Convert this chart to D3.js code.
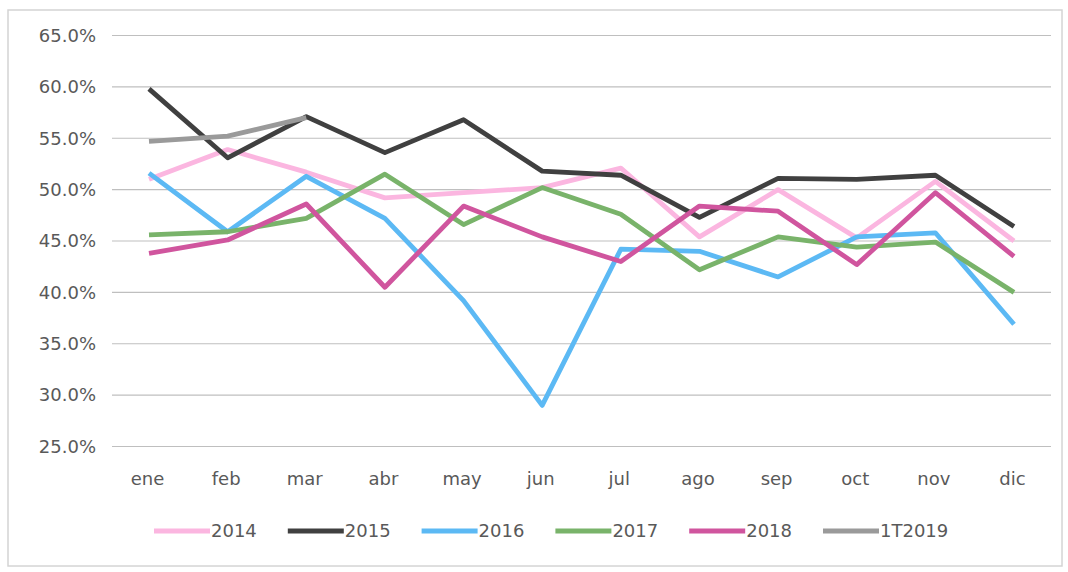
<!DOCTYPE html>
<html>
<head>
<meta charset="utf-8">
<script src="https://cdn.jsdelivr.net/npm/d3@7"></script>
<style>
  body { margin: 0; background: #fff; }
  svg { display: block; }
</style>
</head>
<body>
<div id="chart"></div>
<script>
const months = ['ene', 'feb', 'mar', 'abr', 'may', 'jun', 'jul', 'ago', 'sep', 'oct', 'nov', 'dic']
const yTicks = [25, 30, 35, 40, 45, 50, 55, 60, 65]

const s2014 = [51.0, 53.9, 51.7, 49.2, 49.7, 50.2, 52.1, 45.4, 50.0, 45.3, 50.8, 45.0]
const s2015 = [59.8, 53.1, 57.1, 53.6, 56.8, 51.8, 51.4, 47.3, 51.1, 51.0, 51.4, 46.4]
const s2016 = [51.6, 45.9, 51.3, 47.2, 39.2, 29.0, 44.2, 44.0, 41.5, 45.4, 45.8, 36.9]
const s2017 = [45.6, 45.9, 47.2, 51.5, 46.6, 50.2, 47.6, 42.2, 45.4, 44.4, 44.9, 40.0]
const s2018 = [43.8, 45.1, 48.6, 40.5, 48.4, 45.4, 43.0, 48.4, 47.9, 42.7, 49.7, 43.5]
const s1T2019 = [54.7, 55.2, 57.0, null, null, null, null, null, null, null, null, null]

const seriesNames = ['2014', '2015', '2016', '2017', '2018', '1T2019']
const seriesColors = ['#fbb6e0', '#404040', '#5cb9f4', '#79b36a', '#d0559e', '#9a9a9a']
const seriesData = [s2014, s2015, s2016, s2017, s2018, s1T2019]

const W = 1068
const H = 572

const svg = d3
  .select('#chart')
  .append('svg')
  .attr('width', W)
  .attr('height', H)

// scanned frame
svg
  .append('rect')
  .attr('x', 8)
  .attr('y', 10)
  .attr('width', 1054)
  .attr('height', 556)
  .attr('fill', 'none')
  .attr('stroke', '#d4d4d4')
  .attr('stroke-width', 1.5)

const xScale = d3
  .scalePoint()
  .domain(months)
  .range([149, 1014])

const yScale = d3
  .scaleLinear()
  .domain([25, 65])
  .range([446.5, 35.5])

// gridlines
svg
  .append('g')
  .selectAll('line')
  .data(yTicks)
  .enter()
  .append('line')
  .attr('x1', 112)
  .attr('x2', 1051)
  .attr('y1', d => yScale(d))
  .attr('y2', d => yScale(d))
  .attr('stroke', '#bfbfbf')
  .attr('stroke-width', 1.2)

// y axis labels
const yAxis = d3
  .axisLeft(yScale)
  .tickValues(yTicks)
  .tickSize(0)
  .tickPadding(0)
  .tickFormat(d => d.toFixed(1) + '%')

svg
  .append('g')
  .attr('transform', 'translate(96,0)')
  .call(yAxis)
  .call(g => g.select('.domain').remove())
  .selectAll('text')
  .attr('font-family', 'DejaVu Sans, sans-serif')
  .attr('font-size', 18)
  .attr('fill', '#595959')

// x axis labels
const xAxis = d3.axisBottom(xScale).tickSize(0).tickPadding(0)

svg
  .append('g')
  .attr('transform', 'translate(-2,472)')
  .call(xAxis)
  .call(g => g.select('.domain').remove())
  .selectAll('text')
  .attr('font-family', 'DejaVu Sans, sans-serif')
  .attr('font-size', 18)
  .attr('fill', '#595959')

const line = d3
  .line()
  .defined(d => d != null)
  .x((d, i) => xScale(months[i]))
  .y(d => yScale(d))

svg
  .append('g')
  .selectAll('path')
  .data(seriesData)
  .enter()
  .append('path')
  .attr('d', line)
  .attr('fill', 'none')
  .attr('stroke', (d, i) => seriesColors[i])
  .attr('stroke-width', 4.8)
  .attr('stroke-linejoin', 'round')

// legend
const legendX = d3
  .scalePoint()
  .domain(seriesNames)
  .range([154, 823])

const legend = svg
  .append('g')
  .selectAll('.legend-item')
  .data(seriesNames)
  .enter()
  .append('g')
  .attr('transform', d => `translate(${legendX(d)},531)`)

legend
  .append('line')
  .attr('x1', 0)
  .attr('x2', 56)
  .attr('stroke', (d, i) => seriesColors[i])
  .attr('stroke-width', 5)

legend
  .append('text')
  .text(d => d)
  .attr('x', 57)
  .attr('y', 0)
  .attr('dy', '0.35em')
  .attr('font-family', 'DejaVu Sans, sans-serif')
  .attr('font-size', 18)
  .attr('fill', '#595959')
</script>
</body>
</html>
